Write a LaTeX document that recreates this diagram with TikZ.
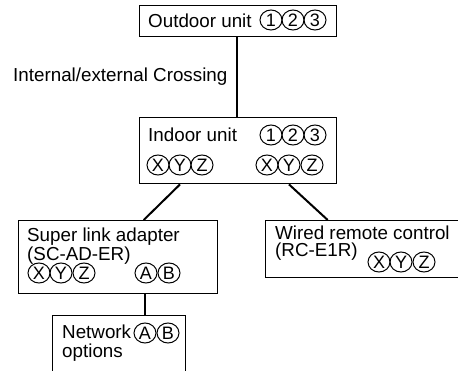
\documentclass[tikz,border=0pt]{standalone}
\usepackage{fontspec}
\setmainfont{Liberation Sans}
\usetikzlibrary{shapes.geometric,calc}
\begin{document}
\begin{tikzpicture}[x=1pt,y=-1pt,
  box/.style={draw, line width=1.4pt, inner sep=0pt, anchor=north west},
  txt/.style={anchor=base west, inner sep=0pt, font=\fontsize{18.8}{22}\selectfont},
  circ/.style={draw, ellipse, line width=1pt, minimum width=22pt, minimum height=20pt, inner sep=0pt, font=\fontsize{18}{18}\selectfont},
  wire/.style={line width=2pt}]
\useasboundingbox (0,0) rectangle (458,371);
\clip (0,0) rectangle (458,371);
% Outdoor unit
\node[box, minimum width=197pt, minimum height=31pt] (out) at (139,5) {};
\node[txt] (outT) at (148,28) {Outdoor unit};
\node[circ] (o1) at (271,20) {1};
\node[circ] (o2) at (293,20) {2};
\node[circ] (o3) at (315,20) {3};
% label
\node[txt] (lab) at (13,82) {Internal/external Crossing};
% Indoor unit
\node[box, minimum width=197pt, minimum height=66pt] (in) at (139,117) {};
\node[txt] (inT) at (148,142) {Indoor unit};
\node[circ] (i1) at (271,135) {1};
\node[circ] (i2) at (293,135) {2};
\node[circ] (i3) at (315,135) {3};
\node[circ] (ix1) at (158,165) {X};
\node[circ] (iy1) at (180,165) {Y};
\node[circ] (iz1) at (202,165) {Z};
\node[circ] (ix2) at (267,165) {X};
\node[circ] (iy2) at (289,165) {Y};
\node[circ] (iz2) at (312,165) {Z};
% Super link adapter
\node[box, minimum width=199pt, minimum height=73pt] (sla) at (18,220) {};
\node[txt] (slaT1) at (27,242) {Super link adapter};
\node[txt] (slaT2) at (27,261) {(SC-AD-ER)};
\node[circ] (sx) at (39,273) {X};
\node[circ] (sy) at (61,273) {Y};
\node[circ] (sz) at (84,273) {Z};
\node[circ] (sa) at (146,273) {A};
\node[circ] (sb) at (169,273) {B};
% Wired remote control
\node[box, minimum width=210pt, minimum height=57pt] (wrc) at (265,220) {};
\node[txt] (wrcT1) at (275,240) {Wired remote control};
\node[txt] (wrcT2) at (275,257) {(RC-E1R)};
\node[circ] (wx) at (379,262) {X};
\node[circ] (wy) at (401,262) {Y};
\node[circ] (wz) at (424,262) {Z};
% Network options
\node[box, minimum width=133pt, minimum height=80pt] (net) at (52,315) {};
\node[txt] (netT1) at (62,339) {Network};
\node[txt] (netT2) at (62,358) {options};
\node[circ] (na) at (145,333) {A};
\node[circ] (nb) at (168,333) {B};
% connectors
\draw[wire] ([xshift=-1.5pt]out.south) -- ([xshift=-1.5pt]in.north);
\draw[wire] (iy1 |- in.south) -- ([xshift=25.5pt]sla.north);
\draw[wire] (iy2 |- in.south) -- ([xshift=-43pt]wrc.north);
\draw[wire] ([xshift=25.5pt]net.north) -- ([xshift=25.5pt]net.north |- sla.south);
\end{tikzpicture}
\end{document}
